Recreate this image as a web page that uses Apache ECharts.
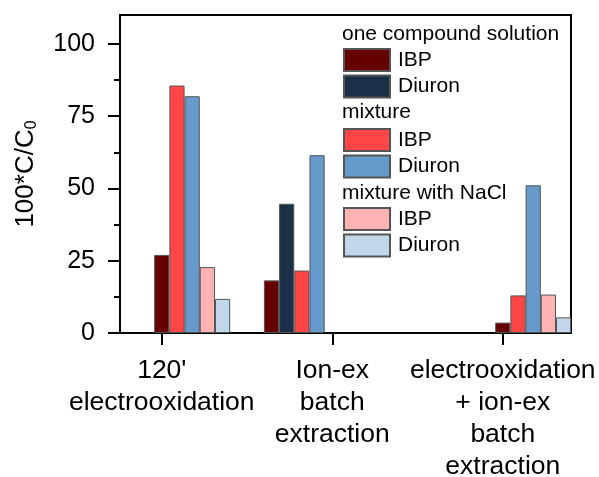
<!DOCTYPE html>
<html>
<head>
<meta charset="utf-8">
<script src="https://cdn.jsdelivr.net/npm/echarts@6/dist/echarts.min.js"></script>
<style>html,body{margin:0;padding:0;background:#fff;}#c{width:599px;height:477px;}</style>
</head>
<body>
<div id="c"></div>
<script>
const categories = ["120'\nelectrooxidation", "Ion-ex\nbatch\nextraction", "electrooxidation\n+ ion-ex\nbatch\nextraction"];
const groupNames = ["one compound solution", "mixture", "mixture with NaCl"];
const compounds = ["IBP", "Diuron"];
const ibpOne = [27.0, 18.2, 3.6];
const diuronOne = [null, 44.7, null];
const ibpMix = [85.6, 21.6, 13.0];
const diuronMix = [81.9, 61.5, 51.1];
const ibpNaCl = [22.8, null, 13.3];
const diuronNaCl = [11.8, null, 5.4];
const yTicks = [0, 25, 50, 75, 100];
const yMinorTicks = [12.5, 37.5, 62.5, 87.5];

const FONT = "'Liberation Sans', Arial, sans-serif";
const seriesValues = [ibpOne, diuronOne, ibpMix, diuronMix, ibpNaCl, diuronNaCl];
const colors = ['#660000', '#1b2f48', '#ff4545', '#6699cc', '#ffb3b3', '#c2d6eb'];
const seriesNames = [];
groupNames.forEach(g => compounds.forEach(c => seriesNames.push(g + '|' + c)));

// layout: bars of each category are placed side by side, skipping missing ones
const slot = 15.2 / 170.5;
const groupStart = [0, -4, 0];
const seriesData = seriesValues.map(() => []);
categories.forEach((cat, i) => {
  let k = 0;
  seriesValues.forEach((vals, s) => {
    const v = vals[i];
    if (v !== null && v !== undefined) {
      seriesData[s].push([i + 1 + (groupStart[i] + k) * slot, v]);
      k++;
    }
  });
});

const chart = echarts.init(document.getElementById('c'));
const option = {
  animation: false,
  backgroundColor: '#fff',
  textStyle: { fontFamily: FONT },
  grid: { left: 120, right: 28, top: 15, bottom: 144, show: true, borderColor: '#000', borderWidth: 2, backgroundColor: 'transparent', outerBoundsMode: 'none', containLabel: false },
  xAxis: {
    type: 'value', min: 0.755, max: 3.40,
    splitLine: { show: false },
    axisLine: { lineStyle: { color: '#000', width: 2 } },
    axisTick: { customValues: [1, 2, 3], length: 12, lineStyle: { color: '#000', width: 2 } },
    axisLabel: {
      customValues: [1, 2, 3],
      formatter: v => categories[Math.round(v) - 1],
      fontSize: 26.5, color: '#000', fontFamily: FONT, lineHeight: 32, margin: 22, align: 'center'
    }
  },
  yAxis: [{
    type: 'value', min: 0, max: 110,
    splitLine: { show: false },
    axisLine: { show: true, lineStyle: { color: '#000', width: 2 } },
    axisTick: { customValues: yTicks, length: 12, lineStyle: { color: '#000', width: 2 } },
    axisLabel: { customValues: yTicks, fontSize: 25, color: '#000', fontFamily: FONT, margin: 25 },
    name: '{a|100*C/C}{s|0}',
    nameLocation: 'middle', nameRotate: 90, nameGap: 80,
    nameTextStyle: {
      color: '#000', fontFamily: FONT,
      rich: {
        a: { fontSize: 26, fontFamily: FONT, color: '#000' },
        s: { fontSize: 16, fontFamily: FONT, color: '#000', padding: [12, 0, 0, 0] }
      }
    }
  }, {
    type: 'value', min: 0, max: 110, position: 'left',
    splitLine: { show: false },
    axisLine: { show: false },
    axisLabel: { show: false },
    axisTick: { show: true, customValues: yMinorTicks, length: 6, lineStyle: { color: '#000', width: 2 } }
  }],
  legend: groupNames.map((g, gi) => ({
    orient: 'vertical', left: 343, top: [48, 128, 207][gi], padding: 0,
    itemWidth: 46, itemHeight: 22, itemGap: 2.5, icon: 'rect',
    selectedMode: false,
    data: compounds.map(c => g + '|' + c),
    formatter: n => n.split('|')[1],
    textStyle: { fontSize: 21, color: '#000', fontFamily: FONT, lineHeight: 22, padding: [0, 0, 0, 3] }
  })),
  graphic: groupNames.map((g, gi) => ({
    type: 'text', left: 342, top: [36, 114, 195][gi] - 12,
    style: { text: g, fontSize: 21, fontFamily: FONT, fill: '#000' }
  })),
  series: seriesNames.map((n, s) => ({
    name: n, type: 'bar', barWidth: 15.2, barGap: '-100%',
    data: seriesData[s],
    itemStyle: { color: colors[s], borderColor: '#555', borderWidth: 1 }
  }))
};
chart.setOption(option);
</script>
</body>
</html>
